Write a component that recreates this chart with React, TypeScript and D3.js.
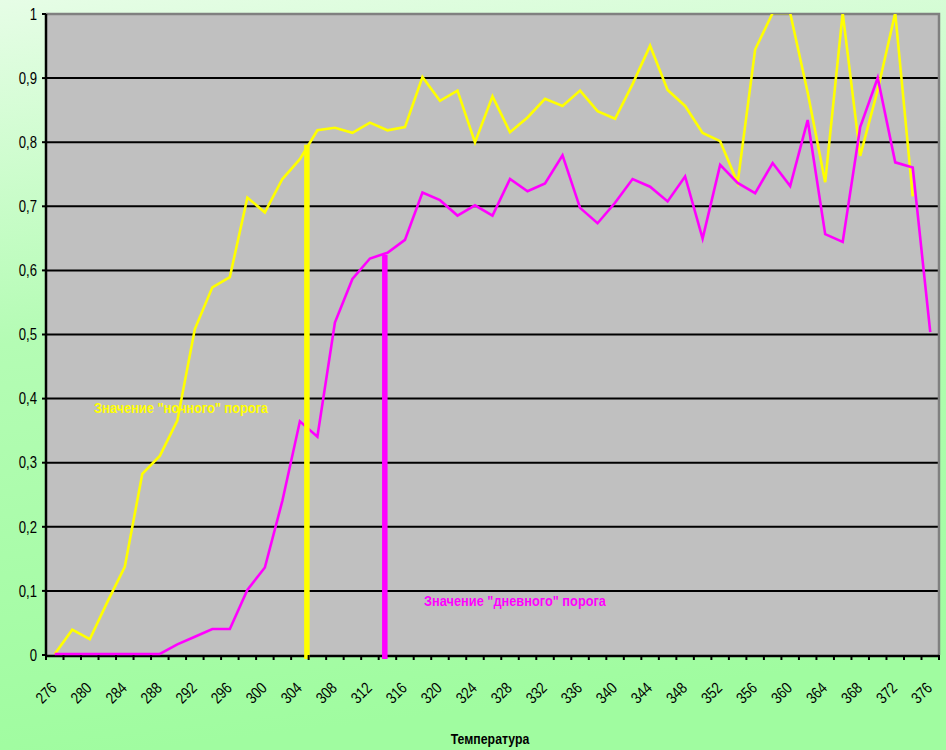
import React, { useEffect, useRef } from 'react';
import * as d3 from 'd3';

// Temperature categories (x axis)
const temperatures = [
  276, 278, 280, 282, 284, 286, 288, 290, 292, 294, 296, 298, 300, 302, 304, 306, 308,
  310, 312, 314, 316, 318, 320, 322, 324, 326, 328, 330, 332, 334, 336, 338, 340, 342,
  344, 346, 348, 350, 352, 354, 356, 358, 360, 362, 364, 366, 368, 370, 372, 374, 376,
];

// "night" series (yellow)
const nightValues: (number | null)[] = [
  0, 0.038, 0.023, 0.081, 0.136, 0.281, 0.309, 0.364, 0.507, 0.572, 0.588, 0.712, 0.689,
  0.741, 0.772, 0.817, 0.821, 0.813, 0.829, 0.817, 0.822, 0.9, 0.863, 0.879, 0.798, 0.87,
  0.814, 0.837, 0.866, 0.855, 0.879, 0.847, 0.835, 0.889, 0.949, 0.88, 0.855, 0.813, 0.8,
  0.735, 0.943, 1.0, 1.0, 0.876, 0.736, 1.0, 0.777, 0.88, 1.0, 0.714, null,
];

// "day" series (magenta)
const dayValues: (number | null)[] = [
  0, 0, 0, 0, 0, 0, 0, 0.015, 0.027, 0.039, 0.039, 0.1, 0.135, 0.239, 0.363, 0.339, 0.517,
  0.585, 0.617, 0.626, 0.646, 0.72, 0.708, 0.684, 0.7, 0.684, 0.741, 0.722, 0.734, 0.778,
  0.696, 0.672, 0.704, 0.741, 0.729, 0.706, 0.745, 0.648, 0.763, 0.735, 0.719, 0.766, 0.73,
  0.833, 0.655, 0.643, 0.822, 0.899, 0.767, 0.759, 0.502,
];

// thresholds: [temperature, value]
const nightThreshold = [304.8, 0.796];
const dayThreshold = [313.7, 0.624];

const yTicks = [0, 0.1, 0.2, 0.3, 0.4, 0.5, 0.6, 0.7, 0.8, 0.9, 1];
const xLabels = temperatures.filter((_, i) => i % 2 === 0);

const nightLabel = 'Значение "ночного" порога';
const dayLabel = 'Значение "дневного" порога';
const xTitle = 'Температура';

const W = 946;
const H = 750;
const FONT = "'Liberation Sans', Arial, sans-serif";
const NARROW = 0.82; // squeeze Arial to look like Arial Narrow

const App: React.FC = () => {
  const svgRef = useRef<SVGSVGElement | null>(null);

  useEffect(() => {
    if (!svgRef.current) return;
    const svg = d3.select(svgRef.current);
    svg.selectAll('*').remove();

    const plot = { left: 46, right: 939, top: 14, bottom: 655 };

    const x = d3.scaleBand<number>().domain(temperatures).range([plot.left, plot.right]);
    const bw = x.bandwidth();
    const cx = (t: number) => (x(t) as number) + bw / 2;
    const tx = d3.scaleLinear()
      .domain([temperatures[0], temperatures[temperatures.length - 1]])
      .range([cx(temperatures[0]), cx(temperatures[temperatures.length - 1])]);
    const y = d3.scaleLinear().domain([0, 1]).range([plot.bottom, plot.top]);

    const defs = svg.append('defs');
    const grad = defs.append('linearGradient').attr('id', 'bg')
      .attr('x1', 0).attr('y1', 0).attr('x2', 0.15).attr('y2', 1);
    grad.append('stop').attr('offset', '0%').attr('stop-color', '#e6fde6');
    grad.append('stop').attr('offset', '45%').attr('stop-color', '#b4fcb4');
    grad.append('stop').attr('offset', '100%').attr('stop-color', '#a0fca0');
    defs.append('clipPath').attr('id', 'plotClip')
      .append('rect')
      .attr('x', plot.left).attr('y', plot.top)
      .attr('width', plot.right - plot.left).attr('height', plot.bottom - plot.top + 3);

    svg.append('rect').attr('width', W).attr('height', H).attr('fill', 'url(#bg)');

    // plot area
    svg.append('rect')
      .attr('x', plot.left).attr('y', plot.top)
      .attr('width', plot.right - plot.left).attr('height', plot.bottom - plot.top)
      .attr('fill', '#c0c0c0');

    // gridlines
    svg.append('g').selectAll('line')
      .data(yTicks.filter(d => d > 0 && d < 1))
      .enter().append('line')
      .attr('x1', plot.left).attr('x2', plot.right)
      .attr('y1', d => y(d)).attr('y2', d => y(d))
      .attr('stroke', '#000').attr('stroke-width', 2);

    // top/right border
    svg.append('path')
      .attr('d', `M${plot.left},${plot.top}H${plot.right}V${plot.bottom}`)
      .attr('fill', 'none').attr('stroke', '#808080').attr('stroke-width', 2.5);

    // axes
    svg.append('line')
      .attr('x1', plot.left).attr('x2', plot.left)
      .attr('y1', plot.top).attr('y2', plot.bottom + 1)
      .attr('stroke', '#000').attr('stroke-width', 2.5);
    svg.append('line')
      .attr('x1', plot.left - 1).attr('x2', plot.right)
      .attr('y1', plot.bottom + 1).attr('y2', plot.bottom + 1)
      .attr('stroke', '#000').attr('stroke-width', 2.5);

    // series lines
    const lines = svg.append('g').attr('clip-path', 'url(#plotClip)');
    const lineGen = d3.line<number | null>()
      .defined(d => d !== null)
      .x((_, i) => cx(temperatures[i]))
      .y(d => y(d as number) - 1);

    lines.append('path').datum(nightValues)
      .attr('d', lineGen).attr('fill', 'none')
      .attr('stroke', '#ffff00').attr('stroke-width', 2.6).attr('stroke-linejoin', 'miter');
    lines.append('path').datum(dayValues)
      .attr('d', lineGen).attr('fill', 'none')
      .attr('stroke', '#ff00ff').attr('stroke-width', 2.6).attr('stroke-linejoin', 'miter');

    // threshold markers
    svg.append('line')
      .attr('x1', tx(nightThreshold[0])).attr('x2', tx(nightThreshold[0]))
      .attr('y1', y(nightThreshold[1])).attr('y2', plot.bottom + 4)
      .attr('stroke', '#ffff00').attr('stroke-width', 5.5);
    svg.append('line')
      .attr('x1', tx(dayThreshold[0])).attr('x2', tx(dayThreshold[0]))
      .attr('y1', y(dayThreshold[1])).attr('y2', plot.bottom + 4)
      .attr('stroke', '#ff00ff').attr('stroke-width', 5.5);

    // y ticks + labels
    const yAxis = svg.append('g');
    yAxis.selectAll('line').data(yTicks).enter().append('line')
      .attr('x1', plot.left - 4).attr('x2', plot.left)
      .attr('y1', d => y(d)).attr('y2', d => y(d))
      .attr('stroke', '#000').attr('stroke-width', 2);
    yAxis.selectAll('text').data(yTicks).enter().append('text')
      .attr('transform', d => `translate(${plot.left - 9},${y(d)}) scale(${NARROW},1)`)
      .attr('dy', '0.36em')
      .attr('text-anchor', 'end')
      .attr('font-family', FONT).attr('font-size', 16).attr('fill', '#000')
      .text(d => String(d).replace('.', ','));

    // x ticks at category boundaries
    const xAxis = svg.append('g');
    xAxis.selectAll('line').data(temperatures).enter().append('line')
      .attr('x1', d => x(d) as number).attr('x2', d => x(d) as number)
      .attr('y1', plot.bottom).attr('y2', plot.bottom + 5)
      .attr('stroke', '#000').attr('stroke-width', 2);
    xAxis.append('line')
      .attr('x1', plot.right).attr('x2', plot.right)
      .attr('y1', plot.bottom).attr('y2', plot.bottom + 5)
      .attr('stroke', '#000').attr('stroke-width', 2);
    xAxis.selectAll('text').data(xLabels).enter().append('text')
      .attr('transform', d => `translate(${cx(d) + 3},${plot.bottom + 34}) rotate(-45) scale(${NARROW},1)`)
      .attr('text-anchor', 'end')
      .attr('font-family', FONT).attr('font-size', 16).attr('fill', '#000')
      .text(d => d);

    svg.append('text')
      .attr('transform', `translate(490,744) scale(${NARROW},1)`)
      .attr('text-anchor', 'middle')
      .attr('font-family', FONT).attr('font-size', 15).attr('font-weight', 'bold')
      .attr('fill', '#000')
      .text(xTitle);

    // annotations
    svg.append('text')
      .attr('x', 94).attr('y', 413)
      .attr('font-family', FONT).attr('font-size', 15).attr('font-weight', 'bold')
      .attr('fill', '#ffff00')
      .attr('textLength', 174).attr('lengthAdjust', 'spacingAndGlyphs')
      .text(nightLabel);
    svg.append('text')
      .attr('x', 424).attr('y', 606)
      .attr('font-family', FONT).attr('font-size', 15).attr('font-weight', 'bold')
      .attr('fill', '#ff00ff')
      .attr('textLength', 182).attr('lengthAdjust', 'spacingAndGlyphs')
      .text(dayLabel);
  }, []);

  return (
    <div style={{ position: 'absolute', left: 0, top: 0 }}>
      <svg ref={svgRef} width={W} height={H} style={{ display: 'block' }} />
    </div>
  );
};

export default App;
